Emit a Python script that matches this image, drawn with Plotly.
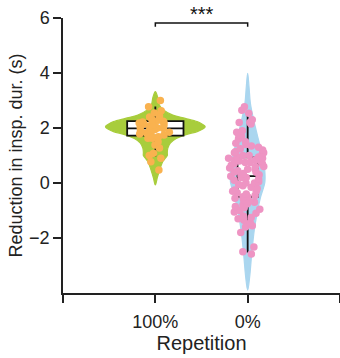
import plotly.graph_objects as go

# Reduction in inspiration duration (s), one value per trial
rep100 = [3.0, 2.77, 2.63, 2.55, 2.44, 2.4, 2.3, 2.28, 2.25, 2.22, 2.2, 2.18,
          2.15, 2.12, 2.1, 2.08, 2.05, 2.03, 2.0, 2.0, 1.98, 1.95, 1.92, 1.9,
          1.88, 1.85, 1.82, 1.78, 1.75, 1.72, 1.68, 1.63, 1.63, 1.5, 1.38,
          1.27, 1.08, 1.0, 0.9, 0.77, 0.47]
rep0 = [2.77, 2.65, 2.54, 2.3, 2.2, 2.2, 2.15, 1.9, 1.85, 1.75, 1.7, 1.6, 1.5,
        1.45, 1.4, 1.35, 1.3, 1.25, 1.2, 1.15, 1.1, 1.1, 1.05, 1.0, 1.0, 0.95,
        0.95, 0.9, 0.9, 0.85, 0.85, 0.8, 0.8, 0.75, 0.75, 0.7, 0.7, 0.65, 0.6,
        0.6, 0.55, 0.5, 0.5, 0.45, 0.4, 0.4, 0.35, 0.3, 0.3, 0.25, 0.2, 0.2,
        0.15, 0.1, 0.05, 0.0, 0.0, -0.05, -0.1, -0.15, -0.2, -0.25, -0.3, -0.3,
        -0.35, -0.4, -0.45, -0.5, -0.5, -0.55, -0.6, -0.65, -0.7, -0.75, -0.8,
        -0.85, -0.9, -0.95, -1.0, -1.05, -1.1, -1.2, -1.25, -1.3, -1.35, -1.45,
        -1.5, -1.55, -1.6, -1.8, -2.33, -2.5, -2.58]

categories = ["100%", "0%"]
positions = [1, 2]

# Box summary: lower whisker, q1, median, q3, upper whisker
box_low = [0.96, -2.53]
box_q1 = [1.72, -0.5]
box_med = [1.99, 0.25]
box_q3 = [2.25, 0.93]
box_high = [2.78, 2.6]

# Smoothed density profiles (relative to each group's peak)
dens100_y = [3.32, 3.1, 2.84, 2.65, 2.47, 2.35, 2.23, 2.12, 2.05, 1.97, 1.87,
             1.75, 1.62, 1.45, 1.26, 1.1, 1.0, 0.9, 0.78, 0.6, 0.41, 0.2, -0.07]
dens100_d = [0.0, 0.05, 0.08, 0.17, 0.35, 0.6, 0.84, 0.96, 1.0, 0.96, 0.84,
             0.6, 0.42, 0.3, 0.25, 0.24, 0.24, 0.2, 0.15, 0.11, 0.076, 0.04, 0.0]
dens0_y = [3.99, 3.5, 2.9, 2.3, 1.68, 1.3, 0.96, 0.47, 0.0, -0.5, -0.98, -1.7,
           -2.56, -3.4, -3.9]
dens0_d = [0.0, 0.08, 0.16, 0.35, 0.59, 0.75, 0.88, 1.0, 1.0, 0.76, 0.59, 0.39,
           0.24, 0.12, 0.0]

sig_label = "***"

groups = [rep100, rep0]
profiles = [(dens100_y, dens100_d), (dens0_y, dens0_d)]
body_colors = ["#a8cd3c", "#aad6ef"]
dot_colors = ["#f9b24f", "#ee94c3"]
half_widths = [0.54, 0.185]
box_widths = [0.61, 0.22]
dot_spread = [0.4, 0.44]


def smooth_closed_path(xs, ys):
    """Closed Catmull-Rom outline expressed as cubic Bezier SVG path."""
    n = len(xs)
    pts = list(zip(xs, ys))
    d = f"M {pts[0][0]},{pts[0][1]}"
    for k in range(n):
        p0 = pts[(k - 1) % n]
        p1 = pts[k]
        p2 = pts[(k + 1) % n]
        p3 = pts[(k + 2) % n]
        c1 = (p1[0] + (p2[0] - p0[0]) / 6, p1[1] + (p2[1] - p0[1]) / 6)
        c2 = (p2[0] - (p3[0] - p1[0]) / 6, p2[1] - (p3[1] - p1[1]) / 6)
        d += (f" C {c1[0]},{c1[1]} {c2[0]},{c2[1]} {p2[0]},{p2[1]}")
    return d + " Z"


fig = go.Figure()

# violin bodies, drawn beneath all traces
for i, (py, pd) in enumerate(profiles):
    c = positions[i]
    w = half_widths[i]
    right = [c + w * d for d in pd]
    left = [c - w * d for d in reversed(pd)][1:-1]
    xs = right + left
    ys = list(py) + list(reversed(py))[1:-1]
    fig.add_shape(type="path", path=smooth_closed_path(xs, ys),
                  xref="x", yref="y", layer="below",
                  fillcolor=body_colors[i],
                  line=dict(color=body_colors[i], width=1.2))

# box-and-whisker summaries
for i in range(2):
    fig.add_trace(go.Box(
        x=[positions[i]], q1=[box_q1[i]], median=[box_med[i]],
        q3=[box_q3[i]], lowerfence=[box_low[i]], upperfence=[box_high[i]],
        width=box_widths[i], fillcolor="white", whiskerwidth=0,
        line=dict(color="#111111", width=1.8), boxpoints=False,
        showlegend=False))

# individual trials, jittered
for i, vals in enumerate(groups):
    fig.add_trace(go.Box(
        x=[positions[i]] * len(vals), y=vals, boxpoints="all", jitter=1,
        pointpos=0, width=dot_spread[i], fillcolor="rgba(0,0,0,0)",
        line=dict(color="rgba(0,0,0,0)", width=0),
        marker=dict(color=dot_colors[i], size=7.5, line=dict(width=0)),
        showlegend=False))

# significance bracket
fig.add_trace(go.Scatter(
    x=[positions[0], positions[0], positions[1], positions[1]],
    y=[5.68, 5.82, 5.82, 5.68], mode="lines",
    line=dict(color="#111111", width=1.5), showlegend=False,
    hoverinfo="skip", cliponaxis=False))
fig.add_annotation(x=(positions[0] + positions[1]) / 2, y=5.82,
                   text=sig_label, showarrow=False, yanchor="bottom",
                   yshift=-4, font=dict(size=20, color="#111111"))

axis_font = dict(family="Liberation Sans, Arial, sans-serif", size=18,
                 color="#222222")
fig.update_layout(
    width=340, height=358,
    margin=dict(l=63, r=0, t=18, b=65),
    paper_bgcolor="white", plot_bgcolor="white",
    boxmode="overlay",
    font=dict(family="Liberation Sans, Arial, sans-serif", color="#222222"),
    xaxis=dict(range=[0, 3], tickvals=[0, 1, 2, 3],
               ticktext=[""] + categories + [""], ticks="outside",
               ticklen=8, tickwidth=1.5, tickcolor="#222222",
               ticklabelstandoff=4,
               showline=True, linecolor="#222222", linewidth=1.5,
               showgrid=False, zeroline=False, tickfont=axis_font,
               title=dict(text="Repetition", font=dict(size=20),
                          standoff=2)),
    yaxis=dict(range=[-4, 6], tickvals=[-2, 0, 2, 4, 6], ticks="outside",
               ticklen=8, tickwidth=1.5, tickcolor="#222222",
               showline=True, linecolor="#222222", linewidth=1.5,
               showgrid=False, zeroline=False, tickfont=axis_font,
               title=dict(text="Reduction in insp. dur. (s)",
                          font=dict(size=18), standoff=2)),
)

fig.write_html("out.html")
